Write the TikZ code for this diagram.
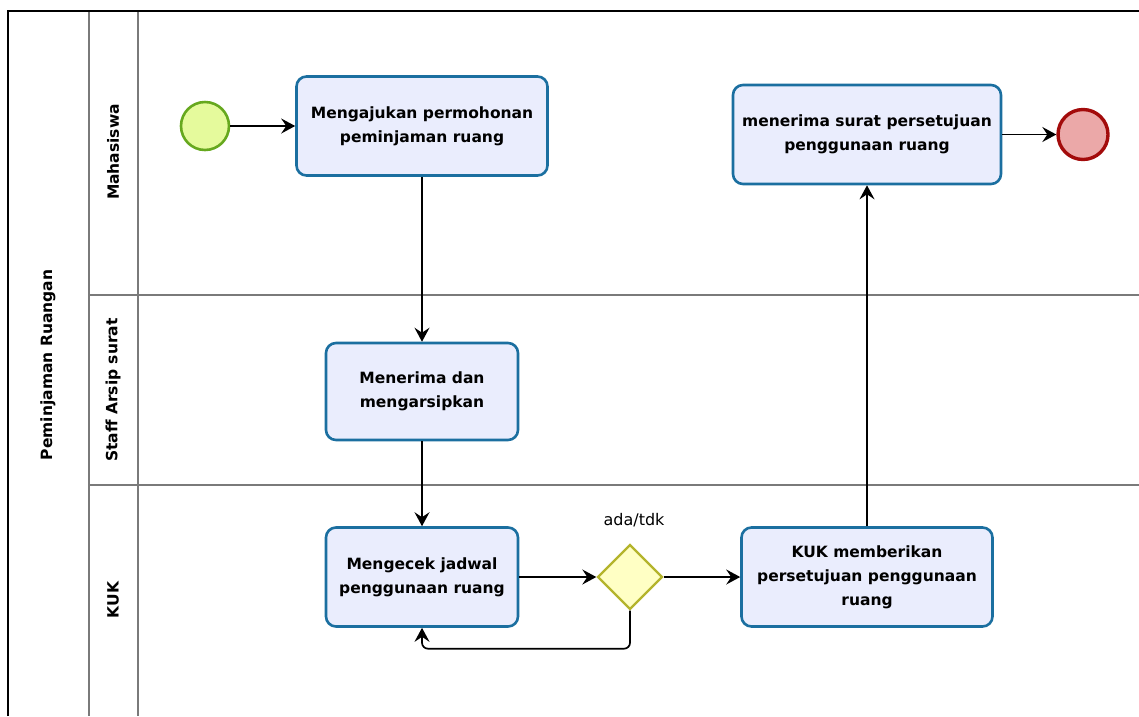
\documentclass[tikz,border=0pt]{standalone}
\usepackage{fontspec}
\setmainfont{DejaVu Sans}
\usetikzlibrary{arrows.meta}
\usetikzlibrary{shapes.geometric}
\definecolor{mblue}{HTML}{1B6FA0}
\definecolor{mtask}{HTML}{EAEDFD}
\definecolor{mgreen}{HTML}{66A81E}
\definecolor{mgreenfill}{HTML}{E5FA9C}
\definecolor{mred}{HTML}{A30B0B}
\definecolor{mredfill}{HTML}{EBA8A8}
\definecolor{mgate}{HTML}{B4B42C}
\definecolor{mgatefill}{HTML}{FFFFC4}
\definecolor{mlane}{HTML}{7A7A7A}
\tikzset{task/.style = {draw = mblue, fill = mtask, line width = 2.6, rounded corners = 10,
    minimum width = 251, minimum height = 99, align = center,
    font = \bfseries\fontsize{15.5}{24}\selectfont}}
\tikzset{startev/.style = {draw = mgreen, fill = mgreenfill, circle, line width = 2.6,
    inner sep = 0, minimum size = 48}}
\tikzset{endev/.style = {draw = mred, fill = mredfill, circle, line width = 3.4,
    inner sep = 0, minimum size = 50}}
\tikzset{gate/.style = {draw = mgate, fill = mgatefill, diamond, line width = 2.4,
    inner sep = 0, minimum width = 65, minimum height = 65}}
\tikzset{flow/.style = {line width = 1.7, -{Stealth[length = 14, width = 15, inset = 5]}}}
\tikzset{lane/.style = {draw = mlane, line width = 1.8}}
\tikzset{lanelabel/.style = {rotate = 90, font = \bfseries\fontsize{15.5}{18}\selectfont}}

\begin{document}
\begin{tikzpicture}[x = 1pt, y = -1pt]
    \useasboundingbox (0, 0) rectangle (1139, 716);

    % pool and lanes
    \draw [lane] (89, 11) -- (89, 716);
    \draw [lane] (138, 11) -- (138, 716);
    \draw [lane] (89, 295) -- (1139, 295);
    \draw [lane] (89, 485) -- (1139, 485);
    \draw [line width = 2.2] (8, 716) -- (8, 11) -- (1139, 11);

    \node [lanelabel] (pool) at (48, 365) {Peminjaman Ruangan};
    \node [lanelabel] (mhs) at (113, 152) {Mahasiswa};
    \node [lanelabel] (staff) at (113, 390) {Staff Arsip surat};
    \node [lanelabel] (kuk) at (113, 600) {KUK};

    % events, tasks and gateway
    \node [startev] (start) at (205, 126) {};
    \node [task] (ask) at (422, 126) {Mengajukan permohonan\\peminjaman ruang};
    \node [task, minimum width = 192, minimum height = 97] (archive) at (422, 391.5) {Menerima dan\\mengarsipkan};
    \node [task, minimum width = 192] (check) at (422, 577) {Mengecek jadwal\\penggunaan ruang};
    \node [gate] (gate) at (630, 577) {};
    \node [font = \fontsize{16}{18}\selectfont] (gatelabel) at (634, 520) {ada/tdk};
    \node [task] (approve) at (867, 577) {KUK memberikan\\persetujuan penggunaan\\ruang};
    \node [task, minimum width = 268] (receive) at (867, 134.5) {menerima surat persetujuan\\penggunaan ruang};
    \node [endev] (finish) at (1083, 134.5) {};

    % sequence flows
    \draw [flow] (start) -- (ask);
    \draw [flow] (ask) -- (archive);
    \draw [flow] (archive) -- (check);
    \draw [flow] (check) -- (gate);
    \draw [flow] (gate) -- (approve);
    \draw [flow] (approve) -- (receive);
    \draw [flow] (receive) -- (finish);
    \draw [flow, rounded corners = 6] (gate.south) -- ++(0, 38) -| (check.south);
  \end{tikzpicture}
\end{document}
